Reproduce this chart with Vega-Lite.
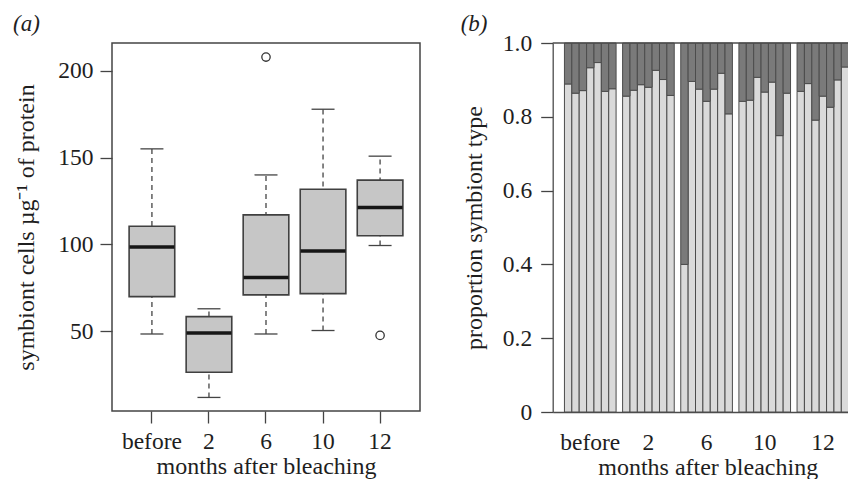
{
  "$schema": "https://vega.github.io/schema/vega-lite/v6.json",
  "background": "white",
  "padding": {"left": 12, "top": 12, "right": 0, "bottom": 0},
  "bounds": "flush",
  "spacing": 132.7,
  "config": {
    "font": "Liberation Serif",
    "axis": {
      "labelFont": "Liberation Serif",
      "titleFont": "Liberation Serif",
      "labelFontSize": 23.5,
      "titleFontSize": 24,
      "labelColor": "#1e1e1e",
      "titleColor": "#1e1e1e",
      "titleFontWeight": "normal",
      "tickColor": "#444444",
      "domainColor": "#444444",
      "tickWidth": 1.3,
      "grid": false
    },
    "title": {
      "font": "Liberation Serif",
      "fontSize": 23,
      "fontWeight": "normal",
      "fontStyle": "italic",
      "color": "#1e1e1e",
      "anchor": "start"
    }
  },
  "hconcat": [
    {
      "width": 308,
      "height": 368,
      "title": {"text": "(a)", "frame": "group", "dx": -99, "offset": 7},
      "view": {"stroke": "#444444", "strokeWidth": 1.5},
      "data": {
        "values": [
          {"month": "before", "lower": 48.5, "q1": 70, "median": 98.5, "q3": 110.5, "upper": 155},
          {"month": "2", "lower": 12, "q1": 26.5, "median": 49, "q3": 58.5, "upper": 63},
          {"month": "6", "lower": 48.5, "q1": 71, "median": 81, "q3": 117, "upper": 140},
          {"month": "10", "lower": 50.5, "q1": 71.7, "median": 96.2, "q3": 131.8, "upper": 177.8},
          {"month": "12", "lower": 99.4, "q1": 105, "median": 121.3, "q3": 137, "upper": 150.8}
        ]
      },
      "encoding": {
        "x": {
          "field": "month",
          "type": "nominal",
          "sort": ["before", "2", "6", "10", "12"],
          "scale": {"paddingInner": 0.2, "paddingOuter": 0.3},
          "axis": {
            "title": "months after bleaching",
            "labelAngle": 0,
            "domain": false,
            "tickSize": 12,
            "labelPadding": 6,
            "titlePadding": 2
          }
        }
      },
      "layer": [
        {
          "mark": {"type": "rule", "color": "#444444", "strokeWidth": 1.3, "strokeDash": [5, 4]},
          "encoding": {
            "y": {
              "field": "lower",
              "type": "quantitative",
              "scale": {"domain": [4.2, 215.9], "nice": false, "zero": false},
              "axis": {
                "title": "symbiont cells µg⁻¹ of protein",
                "values": [50, 100, 150, 200],
                "domain": false,
                "tickSize": 12,
                "labelPadding": 7,
                "titlePadding": 19
              }
            },
            "y2": {"field": "upper"}
          }
        },
        {
          "mark": {"type": "tick", "color": "#444444", "size": 23, "thickness": 1.3, "opacity": 1},
          "encoding": {"y": {"field": "lower", "type": "quantitative"}}
        },
        {
          "mark": {"type": "tick", "color": "#444444", "size": 23, "thickness": 1.3, "opacity": 1},
          "encoding": {"y": {"field": "upper", "type": "quantitative"}}
        },
        {
          "mark": {"type": "bar", "fill": "#c6c6c6", "stroke": "#404040", "strokeWidth": 1.6},
          "encoding": {
            "y": {"field": "q1", "type": "quantitative"},
            "y2": {"field": "q3"}
          }
        },
        {
          "mark": {"type": "tick", "color": "#161616", "size": 45, "thickness": 3.5, "opacity": 1},
          "encoding": {"y": {"field": "median", "type": "quantitative"}}
        },
        {
          "data": {
            "values": [
              {"month": "6", "value": 207.8},
              {"month": "12", "value": 47.7}
            ]
          },
          "mark": {"type": "point", "shape": "circle", "filled": false, "size": 70, "stroke": "#333333", "strokeWidth": 1.3, "opacity": 1},
          "encoding": {"y": {"field": "value", "type": "quantitative"}}
        }
      ]
    },
    {
      "width": 296,
      "height": 369,
      "title": {"text": "(b)", "frame": "group", "dx": -92, "offset": -5},
      "view": {"stroke": null},
      "data": {
        "values": [
          {"month": "before", "sample": 1, "prop": 0.889},
          {"month": "before", "sample": 2, "prop": 0.864},
          {"month": "before", "sample": 3, "prop": 0.871},
          {"month": "before", "sample": 4, "prop": 0.933},
          {"month": "before", "sample": 5, "prop": 0.947},
          {"month": "before", "sample": 6, "prop": 0.869},
          {"month": "before", "sample": 7, "prop": 0.876},
          {"month": "2", "sample": 1, "prop": 0.856},
          {"month": "2", "sample": 2, "prop": 0.872},
          {"month": "2", "sample": 3, "prop": 0.887},
          {"month": "2", "sample": 4, "prop": 0.880},
          {"month": "2", "sample": 5, "prop": 0.926},
          {"month": "2", "sample": 6, "prop": 0.901},
          {"month": "2", "sample": 7, "prop": 0.858},
          {"month": "6", "sample": 1, "prop": 0.400},
          {"month": "6", "sample": 2, "prop": 0.896},
          {"month": "6", "sample": 3, "prop": 0.875},
          {"month": "6", "sample": 4, "prop": 0.842},
          {"month": "6", "sample": 5, "prop": 0.875},
          {"month": "6", "sample": 6, "prop": 0.918},
          {"month": "6", "sample": 7, "prop": 0.808},
          {"month": "10", "sample": 1, "prop": 0.842},
          {"month": "10", "sample": 2, "prop": 0.845},
          {"month": "10", "sample": 3, "prop": 0.907},
          {"month": "10", "sample": 4, "prop": 0.867},
          {"month": "10", "sample": 5, "prop": 0.894},
          {"month": "10", "sample": 6, "prop": 0.749},
          {"month": "10", "sample": 7, "prop": 0.864},
          {"month": "12", "sample": 1, "prop": 0.869},
          {"month": "12", "sample": 2, "prop": 0.890},
          {"month": "12", "sample": 3, "prop": 0.791},
          {"month": "12", "sample": 4, "prop": 0.856},
          {"month": "12", "sample": 5, "prop": 0.826},
          {"month": "12", "sample": 6, "prop": 0.900},
          {"month": "12", "sample": 7, "prop": 0.935}
        ]
      },
      "layer": [
        {
          "mark": {"type": "bar", "fill": "#dadada", "stroke": "#4c4c4c", "strokeWidth": 1},
          "encoding": {
            "x": {
              "field": "month",
              "type": "nominal",
              "sort": ["before", "2", "6", "10", "12"],
              "scale": {"paddingInner": 0.112, "paddingOuter": 0.101, "align": 1},
              "axis": {
                "title": "months after bleaching",
                "labelAngle": 0,
                "ticks": false,
                "domain": true,
                "domainColor": "#4c4c4c",
                "domainWidth": 1.5,
                "labelPadding": 18,
                "titlePadding": 2,
                "titleX": 155
              }
            },
            "xOffset": {"field": "sample", "type": "nominal", "scale": {"paddingInner": 0, "paddingOuter": 0}},
            "y": {
              "field": "prop",
              "type": "quantitative",
              "scale": {"domain": [0, 1], "nice": false},
              "axis": {
                "title": "proportion symbiont type",
                "values": [0, 0.2, 0.4, 0.6, 0.8, 1.0],
                "labelExpr": "datum.value == 0 ? '0' : format(datum.value, '.1f')",
                "domain": true,
                "domainColor": "#4c4c4c",
                "domainWidth": 1.3,
                "tickSize": 12,
                "labelPadding": 9,
                "titlePadding": 16
              }
            }
          }
        },
        {
          "mark": {"type": "bar", "fill": "#7a7a7a", "stroke": "#4c4c4c", "strokeWidth": 1},
          "encoding": {
            "x": {"field": "month", "type": "nominal", "sort": ["before", "2", "6", "10", "12"]},
            "xOffset": {"field": "sample", "type": "nominal"},
            "y": {"field": "prop", "type": "quantitative"},
            "y2": {"datum": 1}
          }
        },
        {
          "data": {"values": [{}]},
          "mark": {"type": "rule", "color": "#4c4c4c", "strokeWidth": 1.5},
          "encoding": {"y": {"datum": 1}}
        }
      ]
    }
  ]
}
